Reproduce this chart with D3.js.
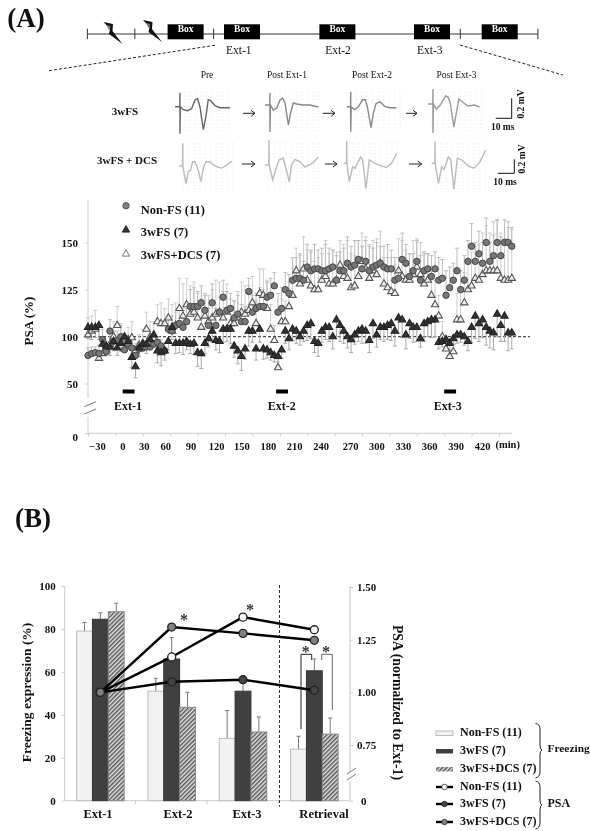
<!DOCTYPE html>
<meta charset="utf-8">
<style>
html, body { margin: 0; padding: 0; background: #fff; }
svg { display: block; filter: blur(0.35px); }
text { font-family: "Liberation Serif", serif; fill: #111; }
.b { font-weight: bold; }
.axis text { font-family: "Liberation Serif", serif; font-weight: bold; font-size: 11px; fill: #111; }
.axis line { stroke: #ccc; }
.axis path { display: none; }
</style>
<body>
<div id="chart"></div>
<script src="https://d3js.org/d3.v7.min.js"></script>
<script>
// panel A, PSA time course, one reading every 4 min from -30
var nonFsPsa = [80,82,83,82,97,84,103,95,96,100,86,92,88,80,87,88,89,89,92,94,90,85,104,103,106,107,105,108,116,116,116,118,114,106,118,106,113,121,114,115,110,112,108,108,124,113,115,116,116,121,122,127,113,115,125,123,130,131,131,130,137,135,136,136,135,135,136,137,130,135,135,139,137,138,141,136,140,135,137,138,139,137,136,136,130,131,141,139,132,135,140,130,135,136,132,136,130,131,122,126,130,135,125,130,140,148,140,144,139,150,140,143,150,143,150,150,148];
var nonFsErr = [8,7,6,9,7,8,6,8,7,6,9,8,10,9,7,8,7,9,8,6,7,9,6,8,7,8,9,7,9,10,8,9,8,9,10,9,8,9,10,8,9,10,9,8,7,9,8,10,9,8,9,7,10,11,9,10,12,11,13,10,12,11,13,10,12,14,11,9,13,10,12,14,11,13,10,12,11,13,10,12,9,11,13,10,12,11,14,10,12,9,11,13,10,8,11,9,12,10,13,11,9,12,10,13,11,12,10,12,11,13,10,11,12,10,12,11,10];
var fsPsa = [105,105,105,106,92,90,89,95,88,93,100,95,78,68,88,92,92,97,101,85,83,85,95,105,93,93,93,95,92,93,83,82,93,98,103,96,95,104,104,104,90,85,79,87,103,103,87,104,87,86,83,80,79,86,103,98,104,103,100,103,106,107,95,93,103,105,105,100,109,106,103,100,97,101,103,104,103,96,107,101,105,105,106,107,103,110,109,101,107,105,105,98,107,108,109,109,94,95,97,93,98,101,101,100,95,105,111,107,109,105,103,102,112,106,111,102,102];
var fsErr = [7,8,6,9,8,7,9,10,8,9,7,8,11,12,9,8,10,8,9,13,14,10,9,8,11,10,12,9,10,12,15,16,11,9,8,10,12,10,9,11,12,14,15,11,13,9,12,10,11,9,8,7,6,9,10,12,8,10,9,8,10,9,12,14,9,8,10,13,9,11,10,12,14,9,8,11,10,13,9,12,8,10,9,11,13,8,10,14,9,11,10,9,12,8,10,9,7,6,8,7,6,8,7,9,10,11,13,12,10,14,15,16,12,11,16,17,15];
var dcsPsa = [101,103,104,77,82,86,92,100,106,98,94,97,99,85,91,93,104,100,98,108,107,107,110,103,106,115,111,117,112,113,110,105,111,108,110,112,113,110,113,107,107,110,113,112,114,118,107,123,122,115,104,96,67,108,108,116,122,135,128,136,130,127,125,125,130,132,128,128,130,138,132,131,126,127,132,140,136,131,135,133,139,128,126,124,123,135,132,130,130,133,137,133,128,130,122,117,111,100,87,79,84,109,109,118,125,127,131,130,133,135,135,135,135,131,130,130,131];
var dcsErr = [9,8,10,7,8,9,11,8,10,9,7,8,9,8,10,11,9,8,10,9,11,8,10,14,12,16,17,14,15,16,13,15,12,14,15,18,16,14,15,13,12,14,16,15,13,14,12,13,14,15,13,10,9,12,11,13,14,12,15,17,16,18,15,17,14,19,16,18,15,13,17,20,18,16,19,15,17,18,16,19,17,14,16,18,15,17,19,16,14,18,15,17,16,14,15,13,11,8,7,6,8,14,15,16,14,18,17,19,22,24,20,26,27,24,22,28,26];
var psaStartMin = -30, psaStepMin = 4;
var psaTicks = [0, 50, 100, 125, 150];
var minuteLabels = [-30,0,30,60,90,120,150,180,210,240,270,300,330,360,390,420];
var extStartMin = [8, 176, 360];
var extLengthMin = 13;
var extNames = ["Ext-1", "Ext-2", "Ext-3"];

// panel A, example traces as [ms, mV]
var traceTop = [
  [[0,0],[3,0],[3.1,.14],[3.1,-.27],[3.3,0],[5.2,-.03],[7.7,-.04],[10.4,-.02],[12.5,.07],[14.1,.08],[15.6,0],[17.7,-.23],[19.3,-.1],[20.8,.07],[22.3,.06],[25,.01],[28,-.01],[34.3,-.01]],
  [[0,0],[3,0],[3.1,.12],[3.1,-.27],[3.4,0],[5.2,-.05],[7.3,-.03],[9.4,.05],[11,.07],[12.5,.02],[14.6,-.2],[16,-.08],[17.7,.02],[19.8,.01],[23.9,0],[28,0],[33.3,-.02]],
  [[0,0],[2.4,0],[2.5,.15],[2.5,-.25],[2.8,0],[4.8,-.03],[7.3,0],[10,.07],[11.6,.07],[12.9,0],[15.2,-.21],[16.6,-.07],[18.3,.03],[20.8,.05],[24,0],[27,-.01],[31,-.01]],
  [[0,0],[3,0],[3.1,.15],[3.1,-.29],[3.4,0],[5.2,-.05],[7.7,-.01],[11,.08],[12.5,.07],[13.9,.01],[16.2,-.23],[17.7,-.09],[19.3,.05],[21.4,.02],[25,-.02],[29,-.01],[32.2,-.03]]
];
var traceBottom = [
  [[0,0],[2,0],[2.1,.32],[2.2,0],[4.2,-.25],[5.6,-.08],[7,-.06],[8.3,.06],[9.7,.06],[11.2,-.01],[13.5,-.22],[15,-.03],[16.6,.06],[19,.06],[22.3,0],[26.4,-.03],[29.5,.01],[32.7,.07]],
  [[0,0],[2.4,0],[2.5,.36],[2.6,0],[4.8,-.21],[6.9,-.05],[8.7,.07],[11.4,.1],[13.1,-.05],[15.2,-.24],[16.6,0],[18.7,.08],[21.8,.05],[25,-.03],[30,.03],[33.3,.11]],
  [[0,0],[1.6,0],[1.7,.32],[1.8,0],[3.3,-.26],[5.4,-.05],[6.9,-.07],[10.4,.09],[11.6,.05],[13.7,-.36],[15.8,.05],[19.4,0],[23.5,-.04],[26.6,-.06],[29.7,0],[32.9,.14]],
  [[0,0],[2,0],[2.1,.31],[2.2,0],[4.2,-.29],[6.2,-.05],[7.7,-.09],[10.4,.09],[11.9,.05],[13.9,-.37],[16,.07],[18.7,.05],[22.9,-.04],[26.4,-.07],[30.2,.02],[33.7,.19]]
];

// panel B
var sessions = ["Ext-1", "Ext-2", "Ext-3", "Retrieval"];
var freezeNonFs = [79, 51, 29, 24];
var freezeNonFsErr = [4, 6, 13, 6];
var freeze3wFs = [84.5, 66, 51, 60.5];
var freeze3wFsErr = [3, 10, 7, 5.5];
var freezeDcs = [88, 43.5, 32, 31];
var freezeDcsErr = [4, 7, 7, 7.5];
var psaNonFs = [1, 1.168, 1.357, 1.297];
var psa3wFs = [1, 1.05, 1.06, 1.01];
var psaDcs = [1, 1.31, 1.28, 1.247];
var freezeTicks = [0, 20, 40, 60, 80, 100];
var psaNormTicks = [0, 0.75, 1, 1.25, 1.5];

var svg = d3.select("#chart").append("svg").attr("width", 590).attr("height", 831);

var defs = svg.append("defs");
var hatch = defs.append("pattern").attr("id", "hatch").attr("width", 3).attr("height", 3)
  .attr("patternUnits", "userSpaceOnUse").attr("patternTransform", "rotate(45)");
hatch.append("rect").attr("width", 3).attr("height", 3).attr("fill", "#e6e6e6");
hatch.append("rect").attr("width", 1.5).attr("height", 3).attr("fill", "#555");

function label(str, x, y, size, bold, anchor, rotate) {
  var t = svg.append("text").text(str)
    .attr("text-anchor", anchor || "middle")
    .attr("dominant-baseline", "middle")
    .style("font-size", size + "px");
  if (bold) t.attr("class", "b");
  if (rotate) t.attr("transform", "translate(" + x + "," + y + ") rotate(" + rotate + ")");
  else t.attr("x", x).attr("y", y);
  return t;
}
function seg(x1, y1, x2, y2, color, w, dash) {
  return svg.append("line").attr("x1", x1).attr("y1", y1).attr("x2", x2).attr("y2", y2)
    .attr("stroke", color).attr("stroke-width", w || 1).attr("stroke-dasharray", dash || null);
}

label("(A)", 26, 21, 27, true);
label("(B)", 33, 521, 27, true);

// timeline
seg(87.4, 34, 537.9, 34, "#333", 1);
[87.4, 134.8, 213.6, 460.3, 537.9].forEach(function(x) { seg(x, 28.7, x, 39, "#333", 1); });
[167.6, 224, 319.4, 414, 481.7].forEach(function(x) {
  svg.append("rect").attr("x", x).attr("y", 24.3).attr("width", 36).attr("height", 15).attr("fill", "#000");
  label("Box", x + 18, 30, 9.5, true).style("fill", "#fff");
});
[[0, 0], [39.5, -2]].forEach(function(o) {
  var g = svg.append("g").attr("transform", "translate(" + o[0] + "," + o[1] + ")");
  g.append("path").attr("d", "M103.5 22 L113 24 L112.5 31 L122.5 44 L109 34 L110 29 Z").attr("fill", "#111");
  g.append("path").attr("d", "M106.5 25 L110.5 26 L110 30 L108.5 29 Z").attr("fill", "#777");
});
label("Ext-1", 238.8, 51, 11.5);
label("Ext-2", 338, 51, 11.5);
label("Ext-3", 429.8, 51, 11.5);
seg(49, 70.7, 216.6, 45, "#222", 1, "3,2");
seg(460, 45, 563, 75, "#222", 1, "3,2");

label("Pre", 207, 76, 9.5);
label("Post Ext-1", 287, 76, 9.5);
label("Post Ext-2", 372, 76, 9.5);
label("Post Ext-3", 456.5, 76, 9.5);
label("3wFS", 125, 112.7, 11, true);
label("3wFS + DCS", 127, 161, 11, true);

// example traces
var traceLine = d3.line();
function drawTrace(d, x0, yBase, pxPerMv, color, w, h, yTop) {
  var tx = d3.scaleLinear().domain([0, 10]).range([x0, x0 + 16]);
  var ty = d3.scaleLinear().domain([0, 1]).range([yBase, yBase - pxPerMv]);
  d3.range(x0 + 4, x0 + w, 5.5).forEach(function(x) {
    seg(x, yTop, x, yTop + h, "#ddd", 0.7, "1,2.5");
  });
  svg.append("path").attr("d", traceLine(d.map(function(p) { return [tx(p[0]), ty(p[1])]; })))
    .attr("fill", "none").attr("stroke", color).attr("stroke-width", 1.4);
}
var topX = [175, 265, 346.7, 428], topBase = [106.7, 105, 106.7, 104], topColor = ["#666", "#888", "#888", "#999"];
traceTop.forEach(function(d, i) { drawTrace(d, topX[i], topBase[i], 100, topColor[i], 55, 42, 92); });
var botX = [179.3, 265, 344, 431.7], botBase = [166, 165, 163.3, 163.3];
traceBottom.forEach(function(d, i) { drawTrace(d, botX[i], botBase[i], 70, "#bbb", 54, 47, 143); });

function arrow(x1, x2, y) {
  seg(x1, y, x2, y, "#222", 1);
  seg(x2 - 4, y - 3, x2, y, "#222", 1);
  seg(x2 - 4, y + 3, x2, y, "#222", 1);
}
arrow(243, 255, 113.3); arrow(322.7, 335, 113.3); arrow(406, 417, 113.3);
arrow(242, 255, 164); arrow(325, 337, 164); arrow(409, 421.7, 164);

seg(511.7, 98.3, 511.7, 118.3, "#111", 1); seg(495.7, 118.3, 511.7, 118.3, "#111", 1);
label("10 ms", 502.7, 128, 9.5, true);
label("0.2 mV", 521.7, 104, 9.5, true, "middle", -90);
seg(514.3, 159.3, 514.3, 173.3, "#111", 1); seg(497.7, 173.3, 514.3, 173.3, "#111", 1);
label("10 ms", 505, 183, 9.5, true);
label("0.2 mV", 523, 159, 9.5, true, "middle", -90);

// panel A chart
var xMin = d3.scaleLinear().domain([-30, 420]).range([88, 499]);
var yPsa = d3.scaleLinear().domain([0, 50, 100, 150]).range([433.3, 383.5, 336.7, 242.5]);

seg(88, 200, 88, 398, "#ccc", 1);
seg(88, 417, 88, 433.3, "#ccc", 1);
seg(84.3, 406.7, 96, 401.7, "#777", 1);
seg(84.3, 414, 96, 409, "#777", 1);
seg(88, 433.3, 512, 433.3, "#ccc", 1);

svg.append("g").attr("class", "axis").attr("transform", "translate(88,0)")
  .call(d3.axisLeft(yPsa).tickValues(psaTicks).tickSize(3).tickPadding(7))
  .selectAll("text").attr("dy", function(d) { return d === 0 ? "0.65em" : "0.32em"; });

// labels drift left of their ticks in the original
var minuteNudge = [9, 7, 1, -5, -7, -9, -11, -12, -13, -14, -12, -13, -14, -15, -16, -17];
var minTicks = svg.append("g").attr("class", "axis").attr("transform", "translate(0,433.3)")
  .call(d3.axisBottom(xMin).tickValues(minuteLabels).tickSize(3).tickPadding(6).tickFormat(d3.format("d")));
minTicks.selectAll("text").attr("dx", function(d, i) { return minuteNudge[i]; }).style("font-size", "10.5px");
label("(min)", 507.7, 446, 10.5, true);

svg.append("line").attr("x1", 88).attr("x2", 530).attr("y1", yPsa(100)).attr("y2", yPsa(100))
  .attr("stroke", "#222").attr("stroke-dasharray", "3,2");

function minuteOf(i) { return psaStartMin + i * psaStepMin; }
function whiskers(vals, errs, dir, color) {
  var g = svg.append("g").attr("stroke", color).attr("stroke-width", 1);
  vals.forEach(function(v, i) {
    var x = xMin(minuteOf(i)), y2 = yPsa(v + dir * errs[i]);
    g.append("line").attr("x1", x).attr("x2", x).attr("y1", yPsa(v)).attr("y2", y2);
    g.append("line").attr("x1", x - 2).attr("x2", x + 2).attr("y1", y2).attr("y2", y2);
  });
}
whiskers(dcsPsa, dcsErr, 1, "#ccc");
whiskers(nonFsPsa, nonFsErr, 1, "#bbb");
whiskers(fsPsa, fsErr, -1, "#aaa");

var triangle = d3.symbol().type(d3.symbolTriangle).size(23);
function triangles(vals, fill, stroke) {
  svg.append("g").selectAll("path").data(vals).enter().append("path")
    .attr("d", triangle)
    .attr("transform", function(d, i) { return "translate(" + xMin(minuteOf(i)) + "," + yPsa(d) + ")"; })
    .attr("fill", fill).attr("stroke", stroke).attr("stroke-width", 1.1);
}
triangles(dcsPsa, "#eee", "#555");
svg.append("g").selectAll("circle").data(nonFsPsa).enter().append("circle")
  .attr("cx", function(d, i) { return xMin(minuteOf(i)); })
  .attr("cy", function(d) { return yPsa(d); })
  .attr("r", 3.2).attr("fill", "#777").attr("stroke", "#444").attr("stroke-width", 1);
triangles(fsPsa, "#333", "#222");

svg.selectAll(".extBar").data(extStartMin).enter().append("rect").attr("class", "extBar")
  .attr("x", function(d) { return xMin(d); })
  .attr("width", function(d) { return xMin(d + extLengthMin) - xMin(d); })
  .attr("y", 389.5).attr("height", 4).attr("fill", "#000");
extNames.forEach(function(n, i) { label(n, [128, 281.7, 447.7][i], 407, 12, true); });

label("PSA (%)", 30, 321, 13, true, "middle", -90);

// panel A legend
svg.append("circle").attr("cx", 126).attr("cy", 205.7).attr("r", 3.2).attr("fill", "#808080").attr("stroke", "#555");
svg.append("path").attr("d", triangle).attr("transform", "translate(126,230)").attr("fill", "#333").attr("stroke", "#222");
svg.append("path").attr("d", triangle).attr("transform", "translate(126,254)").attr("fill", "#fff").attr("stroke", "#777");
label("Non-FS (11)", 140.7, 211, 12.5, true, "start");
label("3wFS (7)", 140.7, 233.3, 12.5, true, "start");
label("3wFS+DCS (7)", 140.7, 256, 12.5, true, "start");

// panel B chart
var xSession = d3.scaleBand().domain(sessions).range([64.7, 350]).paddingInner(1 / 3).paddingOuter(1 / 6);
var barW = xSession.bandwidth() / 3;
var yFreeze = d3.scaleLinear().domain([0, 100]).range([800.7, 586]);
var yNorm = d3.scaleLinear().domain([0, 0.75, 1.5]).range([800.7, 745, 587]);

svg.append("g").attr("class", "axis").attr("transform", "translate(64.7,0)")
  .call(d3.axisLeft(yFreeze).tickValues(freezeTicks).tickSize(3).tickPadding(6));
seg(64.7, 586, 64.7, 800.7, "#ccc", 1);
seg(64.7, 800.7, 350, 800.7, "#ccc", 1);
[135.5, 207, 278.5].forEach(function(x) { seg(x, 800.7, x, 804, "#ccc", 1); });

var rightAxis = svg.append("g").attr("class", "axis").attr("transform", "translate(350,0)")
  .call(d3.axisRight(yNorm).tickValues(psaNormTicks).tickSize(3).tickPadding(4).tickFormat(function(d) { return d === 0 ? "0" : d3.format(".2f")(d); }));
rightAxis.selectAll("text").attr("dx", function(d) { return d === 0 ? 4 : 0; });
seg(350, 586, 350, 772, "#d5d5d5", 1.4);
seg(350, 782, 350, 800.7, "#d5d5d5", 1.4);
seg(347, 774, 356, 768, "#777", 1);
seg(347, 780, 356, 774, "#777", 1);

function bars(vals, errs, offset, fill, stroke) {
  var g = svg.append("g");
  vals.forEach(function(v, i) {
    var x = xSession(sessions[i]) + offset * barW;
    var cx = x + barW / 2;
    g.append("line").attr("x1", cx).attr("x2", cx).attr("y1", yFreeze(v)).attr("y2", yFreeze(v + errs[i])).attr("stroke", "#777");
    g.append("line").attr("x1", cx - 2).attr("x2", cx + 2).attr("y1", yFreeze(v + errs[i])).attr("y2", yFreeze(v + errs[i])).attr("stroke", "#777");
    g.append("rect").attr("x", x).attr("width", barW).attr("y", yFreeze(v)).attr("height", yFreeze(0) - yFreeze(v))
      .attr("fill", fill).attr("stroke", stroke).attr("stroke-width", 1);
  });
}
bars(freezeNonFs, freezeNonFsErr, 0, "#f2f2f2", "#bbb");
bars(freeze3wFs, freeze3wFsErr, 1, "#404040", "#333");
bars(freezeDcs, freezeDcsErr, 2, "url(#hatch)", "#888");

seg(279.5, 585, 279.5, 806.7, "#333", 1, "3,2");

var psaLine = d3.line()
  .x(function(d, i) { return xSession(sessions[i]) + xSession.bandwidth() / 2; })
  .y(function(d) { return yNorm(d); });
function psaSeries(vals, fill) {
  svg.append("path").attr("d", psaLine(vals)).attr("fill", "none").attr("stroke", "#000").attr("stroke-width", 2.4);
  svg.append("g").selectAll("circle").data(vals).enter().append("circle")
    .attr("cx", function(d, i) { return xSession(sessions[i]) + xSession.bandwidth() / 2; })
    .attr("cy", function(d) { return yNorm(d); })
    .attr("r", 4).attr("fill", fill).attr("stroke", "#222").attr("stroke-width", 1.3);
}
psaSeries(psaNonFs, "#f5f5f5");
psaSeries(psa3wFs, "#444");
psaSeries(psaDcs, "#808080");

var sessionLabelX = [98, 178, 247, 324];
sessions.forEach(function(s, i) { label(s, sessionLabelX[i], 815, 12.5, true); });
label("Freezing expression (%)", 28, 692.5, 13.5, true, "middle", -90);
label("PSA (normalized to Ext-1)", 396, 702.5, 13.8, true, "middle", 90);

// stars and brackets
[[184, 621], [250, 611], [305.7, 653], [326, 653]].forEach(function(p) { label("*", p[0], p[1], 16, true).style("fill", "#333"); });
svg.append("path").attr("d", "M301 729 V654.3 H311.7 V660").attr("fill", "none").attr("stroke", "#222");
svg.append("path").attr("d", "M321.7 660 V654.3 H332.3 V710").attr("fill", "none").attr("stroke", "#666");

// panel B legend
var swatchX = 436, swatchW = 17;
svg.append("rect").attr("x", swatchX).attr("y", 731).attr("width", swatchW).attr("height", 4.5).attr("fill", "#f2f2f2").attr("stroke", "#bbb");
svg.append("rect").attr("x", swatchX).attr("y", 749).attr("width", swatchW).attr("height", 4.5).attr("fill", "#404040");
svg.append("rect").attr("x", swatchX).attr("y", 767).attr("width", swatchW).attr("height", 4.5).attr("fill", "url(#hatch)");
[[787, "#f5f5f5"], [804, "#444"], [822, "#808080"]].forEach(function(r) {
  seg(swatchX, r[0], swatchX + swatchW, r[0], "#000", 2.4);
  svg.append("circle").attr("cx", swatchX + swatchW / 2).attr("cy", r[0]).attr("r", 2.8).attr("fill", r[1]).attr("stroke", "#222").attr("stroke-width", 0.7);
});
["Non-FS (11)", "3wFS (7)", "3wFS+DCS (7)", "Non-FS (11)", "3wFS (7)", "3wFS+DCS (7)"].forEach(function(s, i) {
  label(s, 460, [733, 751, 769, 787, 804, 822][i], 12, true, "start");
});
svg.append("path").attr("d", "M535.5 723.5 Q540 724 540 729 V745 Q540 750 542 750 Q540 750 540 755 V772 Q540 777 535.5 778").attr("fill", "none").attr("stroke", "#222");
svg.append("path").attr("d", "M535.5 781 Q540 782 540 787 V800 Q540 805 542 805 Q540 805 540 810 V823 Q540 828 535.5 829").attr("fill", "none").attr("stroke", "#222");
label("Freezing", 547.5, 749, 11.4, true, "start");
label("PSA", 547.5, 804, 12, true, "start");
</script>
